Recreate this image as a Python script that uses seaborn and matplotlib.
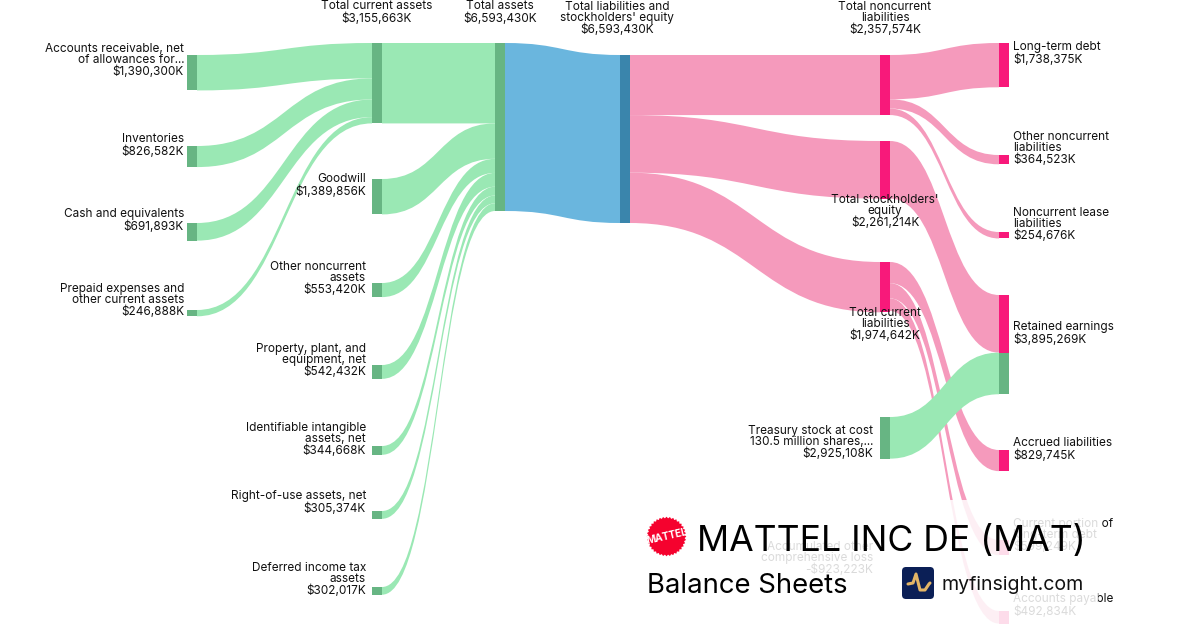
import matplotlib
matplotlib.use("Agg")
import matplotlib.pyplot as plt
import seaborn as sns
import numpy as np
from matplotlib.path import Path
from matplotlib.patches import PathPatch, Rectangle, FancyBboxPatch, Polygon

# -------------------------
# data (thousands of USD)
# -------------------------
current_assets = ["Accounts receivable, net\nof allowances for...", "Inventories", "Cash and equivalents", "Prepaid expenses and\nother current assets"]
current_assets_val = [1390300, 826582, 691893, 246888]

other_assets = ["Goodwill", "Other noncurrent\nassets", "Property, plant, and\nequipment, net", "Identifiable intangible\nassets, net", "Right-of-use assets, net", "Deferred income tax\nassets"]
other_assets_val = [1389856, 553420, 542432, 344668, 305374, 302017]

total_names = ["Total current assets", "Total assets", "Total liabilities and\nstockholders' equity"]
total_val = [3155663, 6593430, 6593430]

liab_groups = ["Total noncurrent\nliabilities", "Total stockholders'\nequity", "Total current\nliabilities"]
liab_groups_val = [2357574, 2261214, 1974642]

noncurrent_names = ["Long-term debt", "Other noncurrent\nliabilities", "Noncurrent lease\nliabilities"]
noncurrent_val = [1738375, 364523, 254676]

current_liab_names = ["Accrued liabilities", "Current portion of\nlong-term debt", "Accounts payable"]
current_liab_val = [829745, 599249, 492834]

equity_names = ["Retained earnings", "Treasury stock at cost\n130.5 million shares,...", "Accumulated other\ncomprehensive loss"]
equity_val = [3895269, 2925108, -923223]
treasury_flow = 1634055  # what is left of retained earnings after the equity link

# -------------------------
# layout: column x and node top in pixels of the 1200x630 canvas
# -------------------------
W_NODE = 10
SCALE = 168 / 6593430
COL = [187, 372, 495, 620, 880, 999]

current_assets_top = [55, 146, 223, 310]
other_assets_top = [179, 283, 365, 446, 511, 587]
liab_groups_top = [55, 141, 262]
noncurrent_top = [43, 155, 232]
current_liab_top = [450, 540, 611]
retained_top = 295
treasury_top = 417

GREEN_LINK, GREEN_NODE = "#9AE8B4", "#67B583"
PINK_LINK, PINK_NODE = "#F59ABC", "#F8197A"
BLUE_LINK, BLUE_NODE = "#6AB6DE", "#3A85AC"


def fmt(v):
    return f"-${-v:,}K" if v < 0 else f"${v:,}K"


def draw_link(ax, x0, y0, x1, y1, value, color):
    # horizontal band, same bezier for the top and the bottom edge
    h = value * SCALE
    xm = (x0 + x1) / 2
    verts = [(x0, y0), (xm, y0), (xm, y1), (x1, y1),
             (x1, y1 + h), (xm, y1 + h), (xm, y0 + h), (x0, y0 + h), (x0, y0)]
    codes = [Path.MOVETO, Path.CURVE4, Path.CURVE4, Path.CURVE4,
             Path.LINETO, Path.CURVE4, Path.CURVE4, Path.CURVE4, Path.CLOSEPOLY]
    ax.add_patch(PathPatch(Path(verts, codes), fc=color, ec="none", lw=0, zorder=2))


def draw_node(ax, col, top, value, color):
    ax.bar(COL[col] + W_NODE / 2, value * SCALE, width=W_NODE, bottom=top, color=color, edgecolor="none", linewidth=0, zorder=3)


def label(ax, x, y, text, ha):
    ax.text(x, y + 1.5, text, ha=ha, va="center", fontsize=8.5, color="#111111", linespacing=0.95,
            multialignment=ha, zorder=4)


sns.set_theme(style="white")
plt.rcParams["font.family"] = ["Inter", "DejaVu Sans"]

fig, ax = plt.subplots(figsize=(12, 6.3), dpi=100)
ax.set_position([0, 0, 1, 1])
ax.set_xlim(0, 1200)
ax.set_ylim(630, 0)
ax.axis("off")

# -------------------------
# links
# -------------------------
top_total = 43
y = top_total
for v, t in zip(current_assets_val, current_assets_top):
    draw_link(ax, COL[0] + W_NODE, t, COL[1], y, v, GREEN_LINK)
    draw_node(ax, 0, t, v, GREEN_NODE)
    y += v * SCALE

draw_link(ax, COL[1] + W_NODE, top_total, COL[2], top_total, total_val[0], GREEN_LINK)
draw_node(ax, 1, top_total, total_val[0], GREEN_NODE)

y = top_total + total_val[0] * SCALE
for v, t in zip(other_assets_val, other_assets_top):
    draw_link(ax, COL[1] + W_NODE, t, COL[2], y, v, GREEN_LINK)
    draw_node(ax, 1, t, v, GREEN_NODE)
    y += v * SCALE

draw_node(ax, 2, top_total, total_val[1], GREEN_NODE)
draw_link(ax, COL[2] + W_NODE, top_total, COL[3], liab_groups_top[0], total_val[1], BLUE_LINK)
draw_node(ax, 3, liab_groups_top[0], total_val[2], BLUE_NODE)

y = liab_groups_top[0]
for v, t in zip(liab_groups_val, liab_groups_top):
    draw_link(ax, COL[3] + W_NODE, y, COL[4], t, v, PINK_LINK)
    draw_node(ax, 4, t, v, PINK_NODE)
    y += v * SCALE

y = liab_groups_top[0]
for v, t in zip(noncurrent_val, noncurrent_top):
    draw_link(ax, COL[4] + W_NODE, y, COL[5], t, v, PINK_LINK)
    draw_node(ax, 5, t, v, PINK_NODE)
    y += v * SCALE

y = liab_groups_top[2]
for v, t in zip(current_liab_val, current_liab_top):
    draw_link(ax, COL[4] + W_NODE, y, COL[5], t, v, PINK_LINK)
    draw_node(ax, 5, t, v, PINK_NODE)
    y += v * SCALE

# stockholders equity and treasury stock both end in retained earnings
draw_link(ax, COL[4] + W_NODE, liab_groups_top[1], COL[5], retained_top, liab_groups_val[1], PINK_LINK)
draw_node(ax, 5, retained_top, liab_groups_val[1], PINK_NODE)
green_top = retained_top + liab_groups_val[1] * SCALE
draw_link(ax, COL[4] + W_NODE, treasury_top, COL[5], green_top, treasury_flow, GREEN_LINK)
draw_node(ax, 4, treasury_top, treasury_flow, GREEN_NODE)
draw_node(ax, 5, green_top, treasury_flow, GREEN_NODE)

# -------------------------
# labels
# -------------------------
y_lab = [59, 144, 219, 299]
for n, v, yy in zip(current_assets, current_assets_val, y_lab):
    label(ax, 184, yy, f"{n}\n{fmt(v)}", "right")

y_lab = [184, 277, 359, 438, 501, 578]
for n, v, yy in zip(other_assets, other_assets_val, y_lab):
    label(ax, 366, yy, f"{n}\n{fmt(v)}", "right")

label(ax, 377, 11, f"{total_names[0]}\n{fmt(total_val[0])}", "center")
label(ax, 500, 11, f"{total_names[1]}\n{fmt(total_val[1])}", "center")
label(ax, 617, 17, f"{total_names[2]}\n{fmt(total_val[2])}", "center")

y_lab = [17, 210, 323]
for n, v, yy in zip(liab_groups, liab_groups_val, y_lab):
    label(ax, 885, yy, f"{n}\n{fmt(v)}", "center")

y_lab = [52, 147, 223]
for n, v, yy in zip(noncurrent_names, noncurrent_val, y_lab):
    label(ax, 1013, yy, f"{n}\n{fmt(v)}", "left")

y_lab = [448, 534, 604]
for n, v, yy in zip(current_liab_names, current_liab_val, y_lab):
    label(ax, 1013, yy, f"{n}\n{fmt(v)}", "left")

label(ax, 1013, 332, f"{equity_names[0]}\n{fmt(equity_val[0])}", "left")
label(ax, 873, 441, f"{equity_names[1]}\n{fmt(equity_val[1])}", "right")
label(ax, 873, 557, f"{equity_names[2]}\n{fmt(equity_val[2])}", "right")

# -------------------------
# title block sits on a see-through white panel
# -------------------------
ax.add_patch(Rectangle((636, 500), 462, 130, fc="white", ec="none", alpha=0.85, zorder=5))

ang = np.linspace(0, 2 * np.pi, 73)[:-1]
rad = np.where(np.arange(72) % 2 == 0, 19.8, 18.2)
ax.add_patch(Polygon(np.c_[666.5 + rad * np.cos(ang), 536.5 + rad * np.sin(ang)], fc="#F5022E", ec="none", zorder=6))
ax.text(666.5, 536.5, "MATTEL", ha="center", va="center", fontsize=7.2, fontweight="bold", color="white", rotation=13, zorder=7)

ax.text(697, 551, "MATTEL INC DE (MAT)", ha="left", va="baseline", fontsize=25.6, color="black", zorder=7)
ax.text(647, 593, "Balance Sheets", ha="left", va="baseline", fontsize=19.8, color="black", zorder=7)
ax.text(941.5, 590, "myfinsight.com", ha="left", va="baseline", fontsize=14.1, color="#111111", zorder=7)

ax.add_patch(FancyBboxPatch((904, 569), 28, 28, boxstyle="round,pad=2,rounding_size=4", fc="#0B1F56", ec="none", zorder=6))
ax.plot([908, 913, 916, 920, 925, 929, 930], [584, 583, 574, 590, 590, 584, 583], color="#E3B566", lw=2.2,
        solid_joinstyle="round", solid_capstyle="round", zorder=7)

plt.savefig("out.png", dpi=100)
